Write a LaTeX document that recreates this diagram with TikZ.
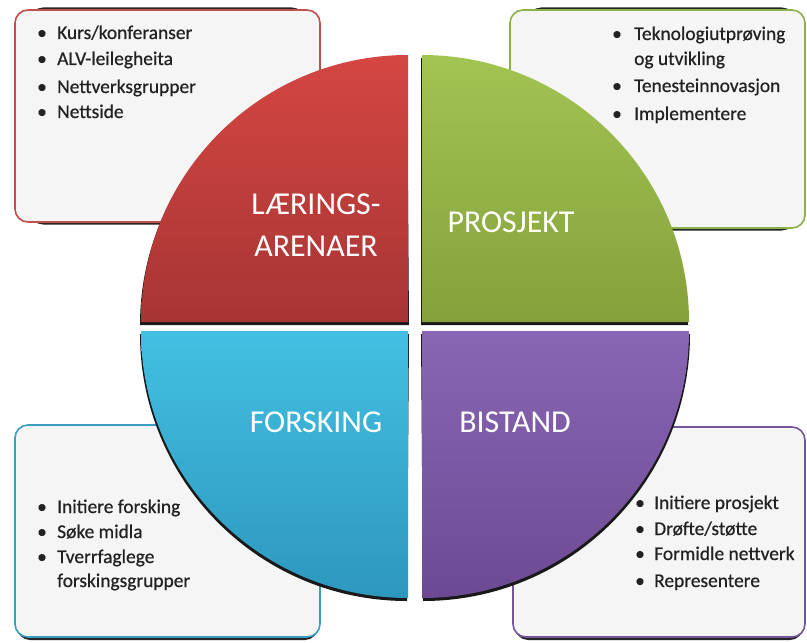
\documentclass[tikz,border=0pt]{standalone}
\usepackage{fontspec}
\setmainfont{Carlito}
\newfontface\itemfont{Carlito}[FakeBold=0.6]
\definecolor{redT}{HTML}{D44642}
\definecolor{redB}{HTML}{A73534}
\definecolor{grnT}{HTML}{A2C452}
\definecolor{grnB}{HTML}{85A13B}
\definecolor{bluT}{HTML}{42C0E2}
\definecolor{bluB}{HTML}{2E97BD}
\definecolor{purT}{HTML}{8866B3}
\definecolor{purB}{HTML}{6C4A93}
\definecolor{redL}{HTML}{C0504D}
\definecolor{grnL}{HTML}{8DB04A}
\definecolor{bluL}{HTML}{3A9CBF}
\definecolor{purL}{HTML}{7356A0}
\definecolor{boxfill}{HTML}{F5F5F5}
\definecolor{txt}{HTML}{222222}
\begin{document}
\begin{tikzpicture}[x=1bp,y=1bp,
  infobox/.style={fill=boxfill,line width=1.6bp,rounded corners=13bp},
  boxshadow/.style={fill=black!85,rounded corners=13bp},
  qshadow/.style={fill=black!90},
  itemtext/.style={anchor=base west,inner sep=0pt,text=txt,font=\itemfont\fontsize{19.5}{24}\selectfont},
  bul/.style={anchor=base,inner sep=0pt,text=txt,font=\itemfont\fontsize{19.5}{24}\selectfont},
  biglabel/.style={anchor=base,inner sep=0pt,text=white,font=\fontsize{32}{40}\selectfont}]
\useasboundingbox (0,0) rectangle (807,-643);
\fill[white] (0,0) rectangle (807,-643);
% info boxes
\fill[boxshadow] (30,-7.5) rectangle (305,-224.5);
\draw[infobox,draw=redL] (15,-10) rectangle (320,-222);
\fill[boxshadow] (528,-7.5) rectangle (795,-230.5);
\draw[infobox,draw=grnL] (510,-10) rectangle (805,-228);
\fill[boxshadow] (17,-440) rectangle (318,-640);
\draw[infobox,draw=bluL] (15,-425) rectangle (320,-637);
\fill[boxshadow] (515,-440) rectangle (803,-640);
\draw[infobox,draw=purL] (513,-427) rectangle (805,-637);
% quadrant shadows
\fill[qshadow] (409,-325) -- (140,-325) arc (180:90:267) -- cycle;
\fill[qshadow] (421,-325) -- (421,-58) arc (90:0:267) -- (690,-325) -- cycle;
\fill[qshadow] (409,-334) -- (140,-334) arc (180:270:267) -- cycle;
\fill[qshadow] (421,-334) -- (690,-334) arc (0:-90:267) -- cycle;
% quadrants
\shade[top color=redT,bottom color=redB] (408,-322) -- (141,-322) arc (180:90:267) -- cycle;
\shade[top color=grnT,bottom color=grnB] (422,-322) -- (422,-55) arc (90:0:267) -- cycle;
\shade[top color=bluT,bottom color=bluB] (408,-331) -- (141,-331) arc (180:270:267) -- cycle;
\shade[top color=purT,bottom color=purB] (422,-331) -- (689,-331) arc (0:-90:267) -- cycle;
% big labels
\node[biglabel] (lA) at (316,-215) {LÆRINGS-};
\node[biglabel] (lB) at (316,-256) {ARENAER};
\node[biglabel] (lP) at (511,-233) {PROSJEKT};
\node[biglabel] (lF) at (316,-432) {FORSKING};
\node[biglabel] (lS) at (515,-432) {BISTAND};
% top-left list
\node[bul] (b11) at (42,-39) {•};
\node[itemtext] (t11) at (57,-39) {Kurs/konferanser};
\node[bul] (b12) at (42,-65) {•};
\node[itemtext] (t12) at (57,-65) {ALV-leilegheita};
\node[bul] (b13) at (42,-93) {•};
\node[itemtext] (t13) at (57,-93) {Nettverksgrupper};
\node[bul] (b14) at (42,-118) {•};
\node[itemtext] (t14) at (57,-118) {Nettside};
% top-right list
\node[bul] (b21) at (617,-40) {•};
\node[itemtext] (t21) at (634,-40) {Teknologiutprøving};
\node[itemtext] (t21b) at (634,-65) {og utvikling};
\node[bul] (b22) at (617,-92) {•};
\node[itemtext] (t22) at (634,-92) {Tenesteinnovasjon};
\node[bul] (b23) at (617,-120) {•};
\node[itemtext] (t23) at (634,-120) {Implementere};
% bottom-left list
\node[bul] (b31) at (42,-513) {•};
\node[itemtext] (t31) at (57,-513) {Initiere forsking};
\node[bul] (b32) at (42,-538) {•};
\node[itemtext] (t32) at (57,-538) {Søke midla};
\node[bul] (b33) at (42,-563) {•};
\node[itemtext] (t33) at (57,-563) {Tverrfaglege};
\node[itemtext] (t33b) at (57,-587) {forskingsgrupper};
% bottom-right list
\node[bul] (b41) at (640,-509) {•};
\node[itemtext] (t41) at (654,-509) {Initiere prosjekt};
\node[bul] (b42) at (640,-535) {•};
\node[itemtext] (t42) at (654,-535) {Drøfte/støtte};
\node[bul] (b43) at (640,-560) {•};
\node[itemtext] (t43) at (654,-560) {Formidle nettverk};
\node[bul] (b44) at (640,-587) {•};
\node[itemtext] (t44) at (654,-587) {Representere};
\end{tikzpicture}
\end{document}
